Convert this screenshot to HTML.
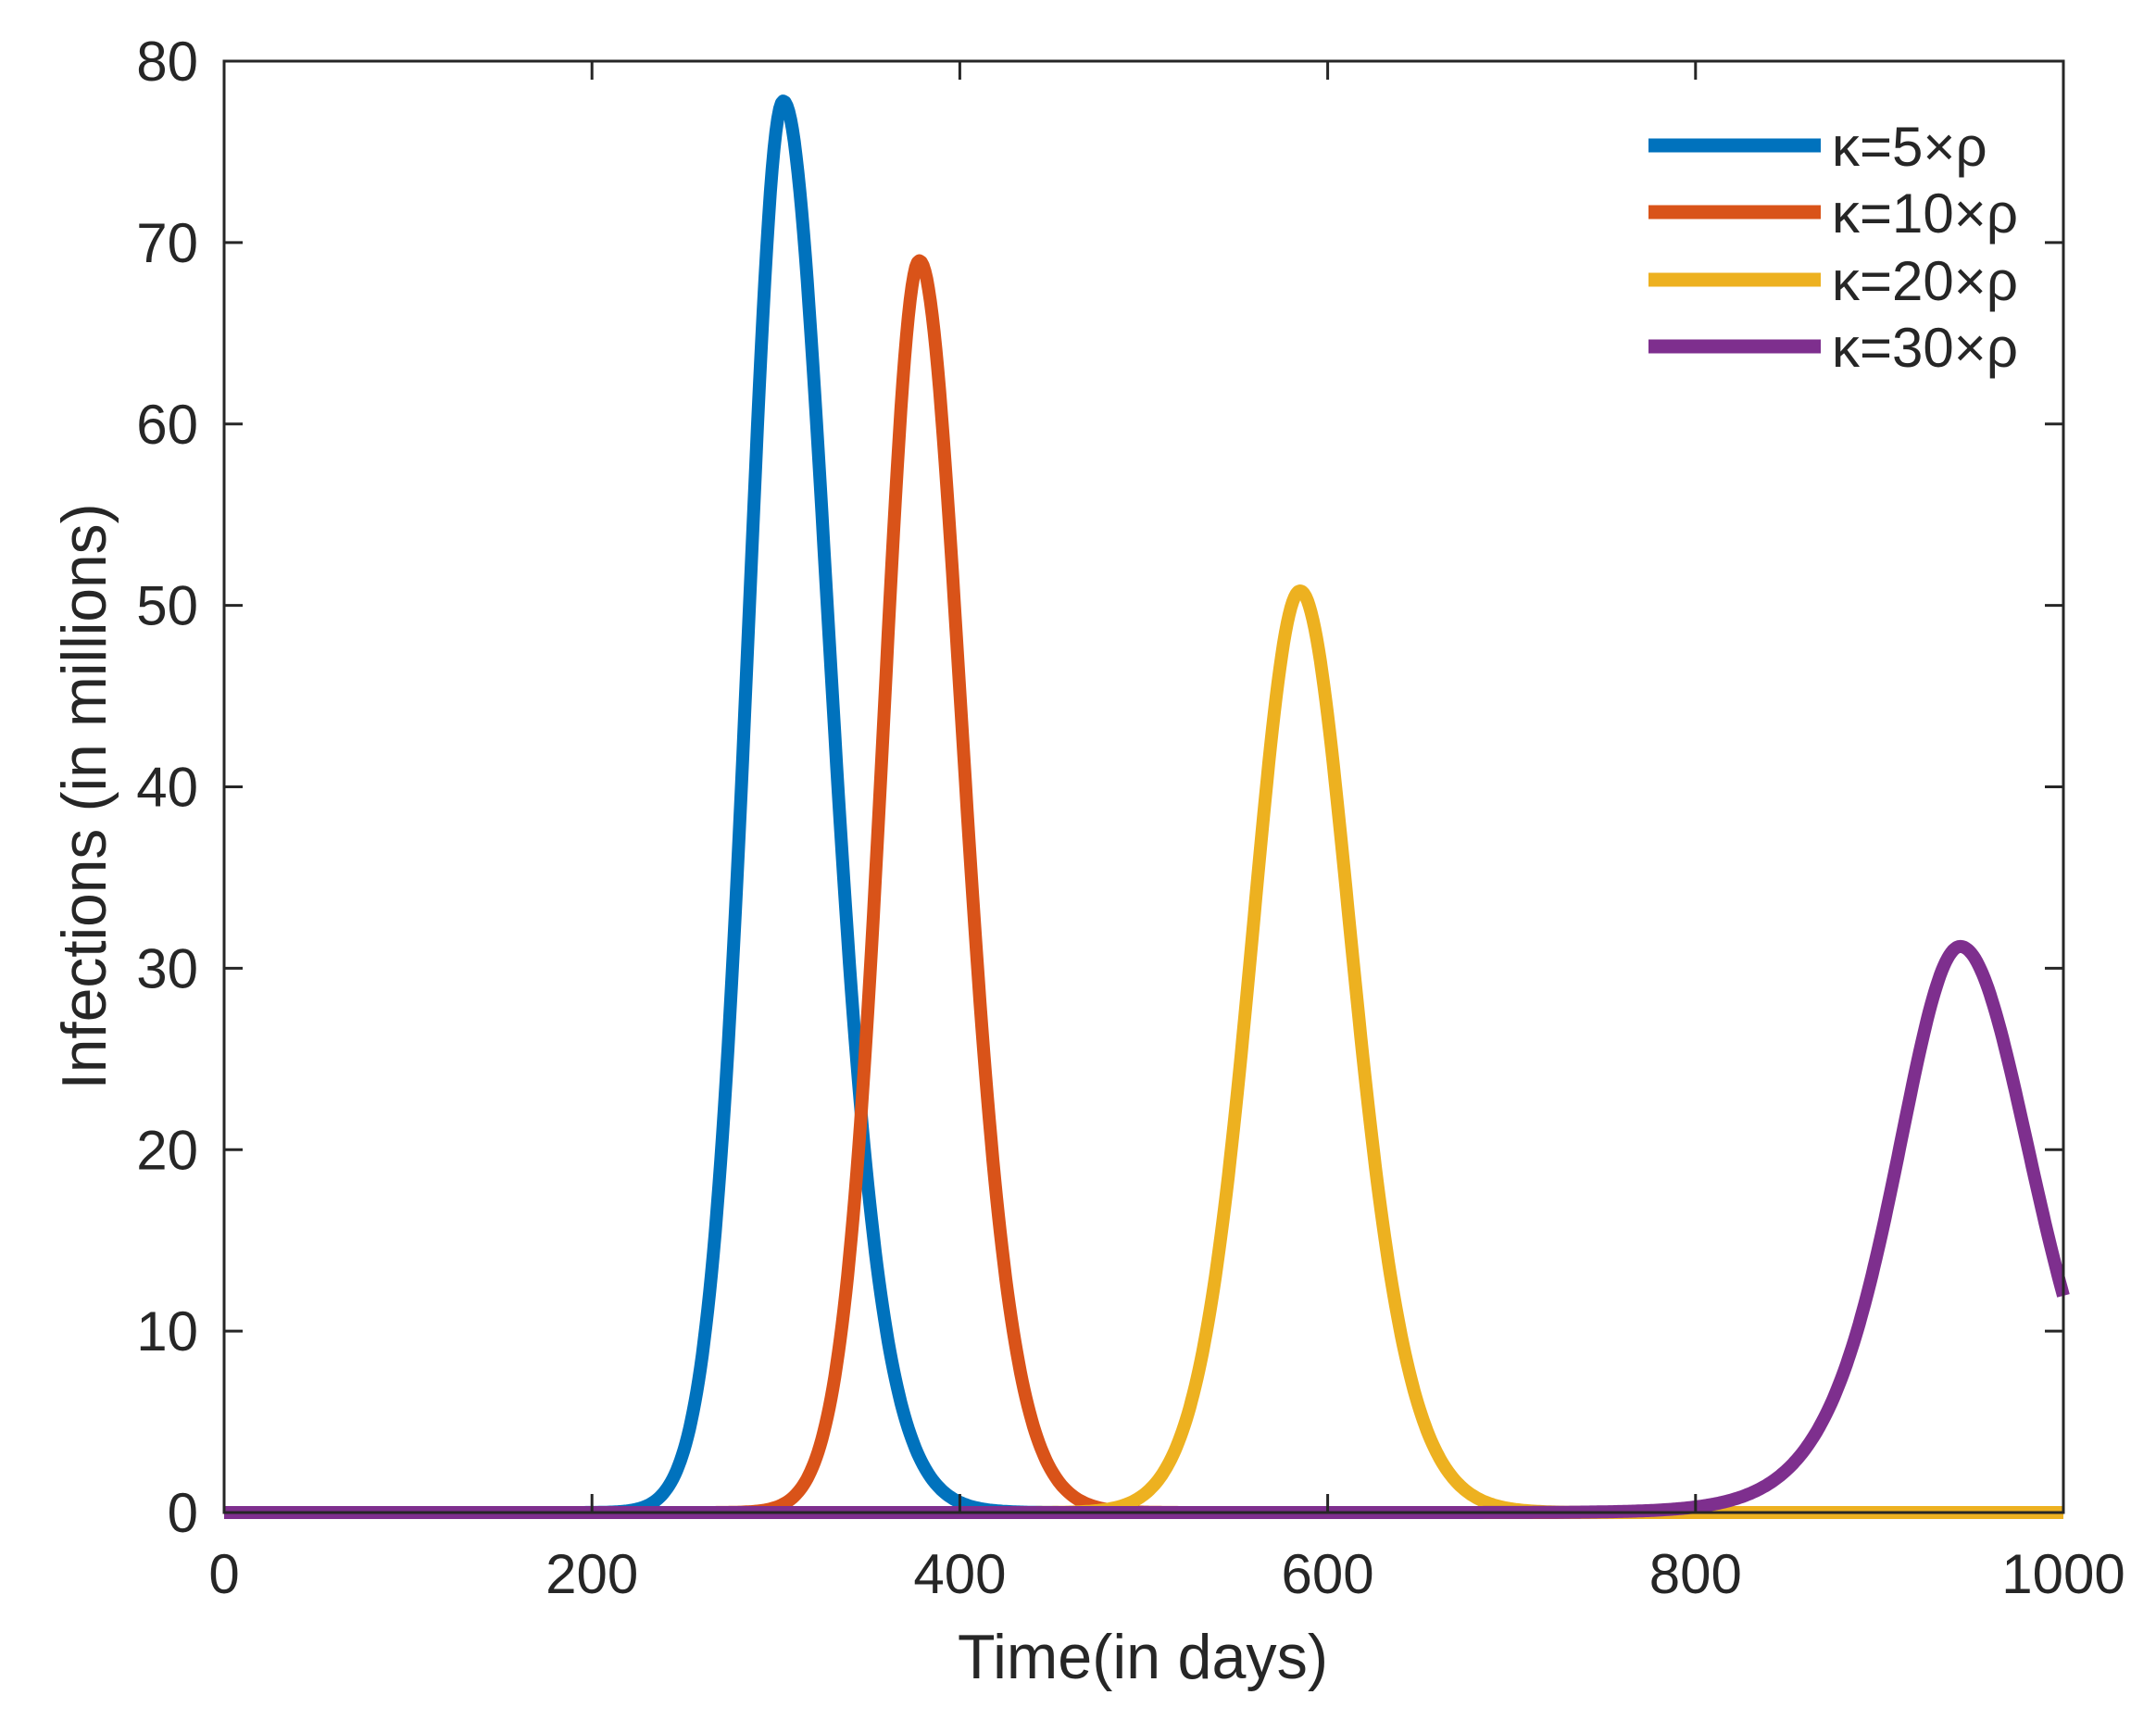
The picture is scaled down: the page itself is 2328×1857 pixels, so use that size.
<!DOCTYPE html>
<html><head><meta charset="utf-8"><style>
html,body{margin:0;padding:0;background:#fff;}
svg{display:block;}
text{font-family:"Liberation Sans",Arial,sans-serif;fill:#262626;}
</style></head><body>
<svg id="s" width="2328" height="1857" viewBox="0 0 2328 1857" xmlns="http://www.w3.org/2000/svg">
<rect width="2328" height="1857" fill="#fff"/>
<g id="curves" fill="none" stroke-width="14" stroke-linejoin="round" stroke-linecap="butt"></g>
<rect x="242" y="66" width="1986" height="1567" fill="none" stroke="#262626" stroke-width="3"/>
<g id="ticks" stroke="#262626" stroke-width="3"></g>
<g font-size="60" text-anchor="end" id="ylab"></g>
<g font-size="60" text-anchor="middle" id="xlab"></g>
<text x="1234" y="1812" font-size="68" text-anchor="middle" textLength="400" lengthAdjust="spacingAndGlyphs">Time(in days)</text>
<text transform="translate(114,860) rotate(-90)" font-size="68" text-anchor="middle" textLength="633" lengthAdjust="spacingAndGlyphs">Infections (in millions)</text>
<g stroke-width="15">
<line x1="1780" y1="157" x2="1966" y2="157" stroke="#0072BD"/>
<line x1="1780" y1="229" x2="1966" y2="229" stroke="#D95319"/>
<line x1="1780" y1="302" x2="1966" y2="302" stroke="#EDB120"/>
<line x1="1780" y1="374" x2="1966" y2="374" stroke="#7E2F8E"/>
</g>
<g font-size="60">
<text x="1978" y="179">κ=5×ρ</text>
<text x="1978" y="251">κ=10×ρ</text>
<text x="1978" y="324">κ=20×ρ</text>
<text x="1978" y="396">κ=30×ρ</text>
</g>
</svg>
<script>
var L=242,R=2228,T=66,B=1633;
function X(t){return L+t*(R-L)/1000;}
function Y(v){return B-v*(B-T)/80;}
function sech2(a){var c=Math.cosh(a);return 1/(c*c);}
var series=[
 ["#0072BD",304,77.8,27,35,0.03],
 ["#D95319",378,69,28,33,0.03],
 ["#EDB120",585,50.8,37,39,0.03],
 ["#7E2F8E",944,31.2,48,54,0.0]
];
var ns="http://www.w3.org/2000/svg";
var g=document.getElementById("curves");
series.forEach(function(s){
 var d="";
 for(var t=0;t<=1000;t+=1){
  var left=t<s[1];
  var w=left?s[3]:s[4];
  var k=left?s[5]:0.02;
  var u=Math.abs(t-s[1])/w;
  var v=s[2]*sech2(u*(1+k*u*u));
  d+=(t?"L":"M")+X(t).toFixed(1)+" "+Y(v).toFixed(1);
 }
 var p=document.createElementNS(ns,"path");
 p.setAttribute("d",d);p.setAttribute("stroke",s[0]);
 g.appendChild(p);
});
var tk=document.getElementById("ticks"),yl=document.getElementById("ylab"),xl=document.getElementById("xlab");
function line(x1,y1,x2,y2){var l=document.createElementNS(ns,"line");l.setAttribute("x1",x1);l.setAttribute("y1",y1);l.setAttribute("x2",x2);l.setAttribute("y2",y2);tk.appendChild(l);}
function txt(par,x,y,s){var t=document.createElementNS(ns,"text");t.setAttribute("x",x);t.setAttribute("y",y);t.textContent=s;par.appendChild(t);}
for(var v=0;v<=80;v+=10){
 var y=Y(v);
 if(v>0&&v<80){line(L,y,L+20,y);line(R,y,R-20,y);}
 txt(yl,214,y+21,String(v));
}
for(var t=0;t<=1000;t+=200){
 var x=X(t);
 if(t>0&&t<1000){line(x,B,x,B-20);line(x,T,x,T+20);}
 txt(xl,x,1720,String(t));
}
</script>
</body></html>
